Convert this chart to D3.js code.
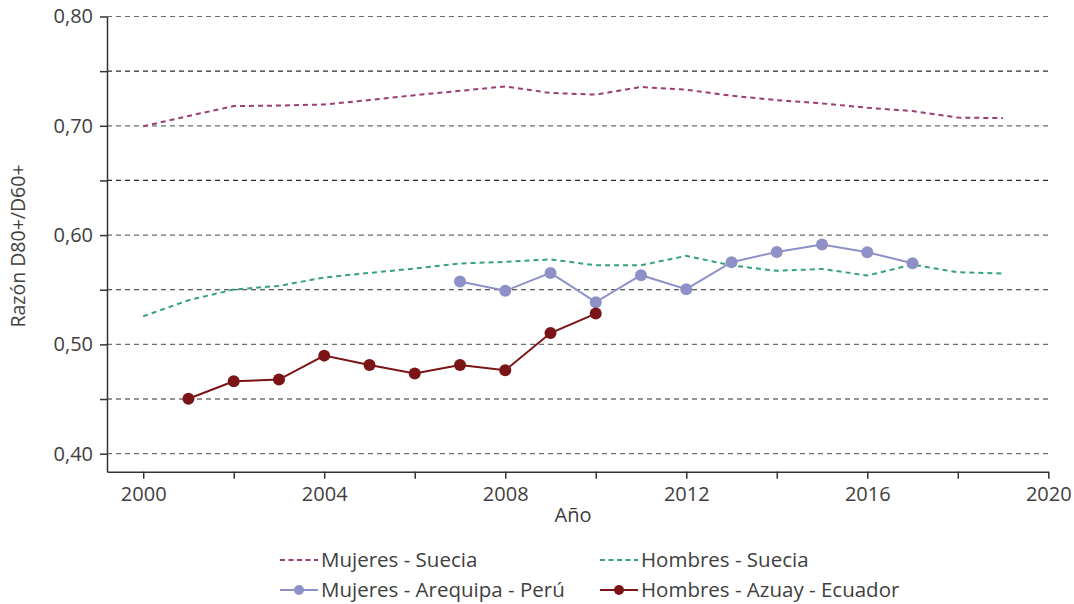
<!DOCTYPE html>
<html>
<head>
<meta charset="utf-8">
<script src="https://cdn.jsdelivr.net/npm/d3@7"></script>
<style>
  body { margin: 0; background: #fff; }
  text { font-family: "Open Sans", "Noto Sans", sans-serif; fill: #404040; }
</style>
</head>
<body>
<div class="myViz"></div>
<script>
// chart data
var seriesNames = ["Mujeres - Suecia", "Hombres - Suecia", "Mujeres - Arequipa - Perú", "Hombres - Azuay - Ecuador"];

var sueciaYears = [2000, 2001, 2002, 2003, 2004, 2005, 2006, 2007, 2008, 2009,
                   2010, 2011, 2012, 2013, 2014, 2015, 2016, 2017, 2018, 2019];
var mujeresSuecia = [0.6995, 0.709, 0.718, 0.7185, 0.7195, 0.7235, 0.728, 0.732, 0.736, 0.730,
                     0.7285, 0.7355, 0.733, 0.7275, 0.7235, 0.7205, 0.7165, 0.7135, 0.7075, 0.707];
var hombresSuecia = [0.5257, 0.5404, 0.5502, 0.5535, 0.5612, 0.5654, 0.5694, 0.574, 0.5755, 0.5777,
                     0.5724, 0.5724, 0.581, 0.5722, 0.5673, 0.569, 0.563, 0.573, 0.566, 0.5648];

var arequipaYears = [2007, 2008, 2009, 2010, 2011, 2012, 2013, 2014, 2015, 2016, 2017];
var mujeresArequipa = [0.5575, 0.549, 0.5654, 0.5386, 0.5633, 0.5505, 0.5752, 0.5846, 0.5914, 0.5843, 0.5743];

var azuayYears = [2001, 2002, 2003, 2004, 2005, 2006, 2007, 2008, 2009, 2010];
var hombresAzuay = [0.4503, 0.4662, 0.4678, 0.4897, 0.4811, 0.4733, 0.4811, 0.4763, 0.5104, 0.5282];

var xTicks = [2000, 2002, 2004, 2006, 2008, 2010, 2012, 2014, 2016, 2018, 2020];
var xTickLabels = ["2000", "", "2004", "", "2008", "", "2012", "", "2016", "", "2020"];
var yTicks = [0.40, 0.45, 0.50, 0.55, 0.60, 0.65, 0.70, 0.75, 0.80];
var yTickLabels = ["0,40", "", "0,50", "", "0,60", "", "0,70", "", "0,80"];

// set the dimensions and margins of the graph
var margin = {top: 16.5, left: 107},
    width = 941.3,
    height = 455.2;

var svg = d3.select(".myViz")
  .append("svg")
  .attr("width", 1074)
  .attr("height", 604);

var chartGroup = svg.append("g")
  .attr("transform", `translate(${margin.left}, ${margin.top})`);

var x = d3.scaleLinear().domain([1999.2, 2020]).range([0, width]);
var y = d3.scaleLinear().domain([0.3835, 0.80]).range([height, 0]);

// dashed gridlines
chartGroup.append("g")
  .selectAll("line")
  .data(yTicks)
  .enter()
  .append("line")
    .attr("x1", 0)
    .attr("x2", width)
    .attr("y1", d => y(d))
    .attr("y2", d => y(d))
    .attr("stroke", (d, i) => i % 2 == 0 ? "#6e6e6e" : "#2a2a2a")
    .attr("stroke-width", 1.2)
    .attr("stroke-dasharray", "5,4");

// axes
var xAxis = chartGroup.append("g")
  .attr("transform", "translate(0," + height + ")")
  .call(d3.axisBottom(x).tickValues(xTicks).tickSize(7).tickSizeOuter(0)
    .tickFormat((d, i) => xTickLabels[i]));

var yAxis = chartGroup.append("g")
  .call(d3.axisLeft(y).tickValues(yTicks).tickSize(7).tickSizeOuter(0)
    .tickFormat((d, i) => yTickLabels[i]));

[xAxis, yAxis].forEach(a => {
  a.attr("font-size", null).attr("font-family", null);
  a.select(".domain").attr("stroke", "#333").attr("stroke-width", 1.5);
  a.selectAll(".tick line").attr("stroke", "#333").attr("stroke-width", 1.5);
  a.selectAll(".tick text").style("font-size", "20px").attr("fill", "#404040");
});
xAxis.selectAll(".tick text").attr("y", 11).attr("dy", "0.9em");
yAxis.selectAll(".tick text").attr("x", -14);

// axis titles
chartGroup.append("text")
  .attr("x", 573 - margin.left)
  .attr("y", height + 50)
  .attr("text-anchor", "middle")
  .style("font-size", "20px")
  .text("Año");

svg.append("text")
  .attr("transform", "translate(25," + (margin.top + y(0.59)) + ") rotate(-90)")
  .attr("text-anchor", "middle")
  .style("font-size", "19.5px")
  .text("Razón D80+/D60+");

// series
var colors = ["#9a3d73", "#34a37b", "#8e91c8", "#7a1416"];

var series = [
  {name: seriesNames[0], years: sueciaYears, values: mujeresSuecia, color: colors[0], dashed: true},
  {name: seriesNames[1], years: sueciaYears, values: hombresSuecia, color: colors[1], dashed: true},
  {name: seriesNames[2], years: arequipaYears, values: mujeresArequipa, color: colors[2], dashed: false},
  {name: seriesNames[3], years: azuayYears, values: hombresAzuay, color: colors[3], dashed: false}
];

var line = d3.line()
  .x(d => x(d[0]))
  .y(d => y(d[1]));

series.forEach(s => {
  var pts = s.years.map((yr, i) => [yr, s.values[i]]);
  chartGroup.append("path")
    .datum(pts)
    .attr("d", line)
    .style("fill", "none")
    .style("stroke", s.color)
    .style("stroke-width", 2)
    .style("stroke-dasharray", s.dashed ? "5,4" : null);
  if (!s.dashed) {
    chartGroup.append("g")
      .selectAll("circle")
      .data(pts)
      .enter()
      .append("circle")
        .attr("cx", d => x(d[0]))
        .attr("cy", d => y(d[1]))
        .attr("r", 6)
        .style("fill", s.color);
  }
});

// legend
var legendPos = [[280, 560], [600, 560], [280, 590], [600, 590]];
series.forEach((s, i) => {
  var g = svg.append("g").attr("transform", `translate(${legendPos[i][0]}, ${legendPos[i][1]})`);
  g.append("line")
    .attr("x1", 0).attr("x2", 38)
    .attr("y1", 0).attr("y2", 0)
    .style("stroke", s.color)
    .style("stroke-width", 2)
    .style("stroke-dasharray", s.dashed ? "5,3.5" : null);
  if (!s.dashed) {
    g.append("circle").attr("cx", 19).attr("cy", 0).attr("r", 5).style("fill", s.color);
  }
  g.append("text")
    .attr("x", 41)
    .attr("y", 0)
    .attr("dy", "0.35em")
    .style("font-size", "20.5px")
    .text(s.name);
});
</script>
</body>
</html>
